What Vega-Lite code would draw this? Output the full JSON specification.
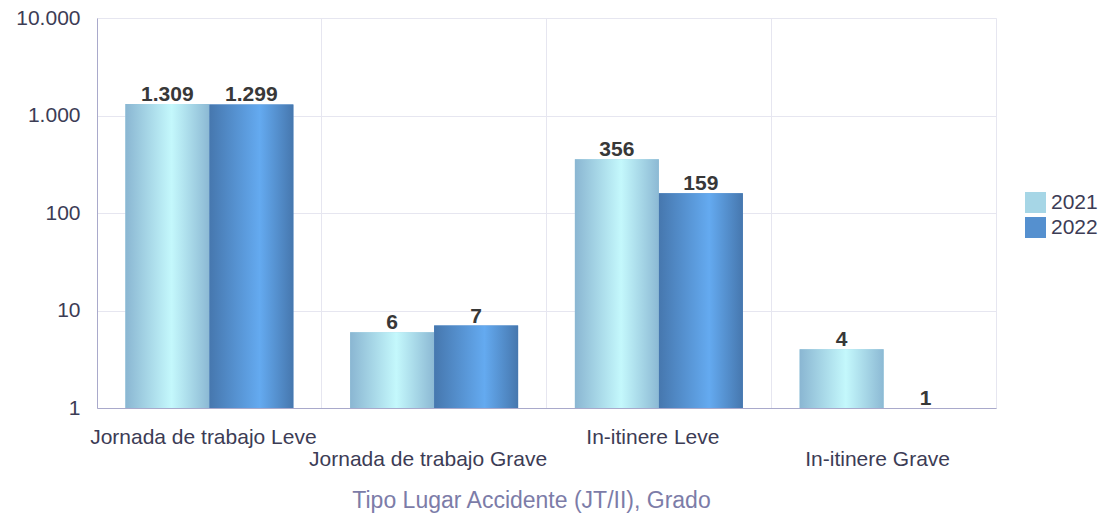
{
  "$schema": "https://vega.github.io/schema/vega-lite/v6.json",
  "width": 899,
  "height": 390,
  "autosize": {"type": "none"},
  "padding": {"left": 97, "top": 18, "right": 109, "bottom": 109},
  "background": "white",
  "config": {
    "locale": {"number": {"decimal": ",", "thousands": ".", "grouping": [3], "currency": ["", " €"]}},
    "view": {"stroke": "#e6e6f0", "strokeWidth": 1},
    "font": "Liberation Sans"
  },
  "data": {
    "values": [
      {"cat": "Jornada de trabajo Leve", "year": "2021", "value": 1309},
      {"cat": "Jornada de trabajo Leve", "year": "2022", "value": 1299},
      {"cat": "Jornada de trabajo Grave", "year": "2021", "value": 6},
      {"cat": "Jornada de trabajo Grave", "year": "2022", "value": 7},
      {"cat": "In-itinere Leve", "year": "2021", "value": 356},
      {"cat": "In-itinere Leve", "year": "2022", "value": 159},
      {"cat": "In-itinere Grave", "year": "2021", "value": 4},
      {"cat": "In-itinere Grave", "year": "2022", "value": 1}
    ]
  },
  "encoding": {
    "x": {
      "field": "cat",
      "type": "nominal",
      "sort": null,
      "scale": {"paddingInner": 0, "paddingOuter": 0},
      "axis": {
        "title": "Tipo Lugar Accidente (JT/II), Grado",
        "titleFont": "Liberation Sans",
        "titleFontSize": 23,
        "titleFontWeight": "normal",
        "titleColor": "#7c7ca8",
        "titleX": 434,
        "titleY": 99,
        "titleBaseline": "alphabetic",
        "titleAlign": "center",
        "labelAngle": 0,
        "labelFont": "Liberation Sans",
        "labelFontSize": 21,
        "labelColor": "#3c3c55",
        "labelBaseline": "alphabetic",
        "labelLineHeight": 22,
        "labelPadding": 35,
        "labelOffset": -6,
        "labelOverlap": false,
        "labelLimit": 0,
        "labelExpr": "indexof(datum.label, 'Grave') >= 0 ? ['', datum.label] : datum.label",
        "bandPosition": 0,
        "ticks": false,
        "tickSize": 0,
        "grid": true,
        "gridColor": "#e6e6f0",
        "gridWidth": 1,
        "domainColor": "#a9a9cb",
        "domainWidth": 1
      }
    },
    "y": {
      "field": "value",
      "type": "quantitative",
      "scale": {"type": "log", "domain": [1, 10000], "nice": false},
      "axis": {
        "title": null,
        "values": [1, 10, 100, 1000, 10000],
        "format": ",d",
        "labelFont": "Liberation Sans",
        "labelFontSize": 21,
        "labelColor": "#3c3c55",
        "labelPadding": 17,
        "ticks": false,
        "tickSize": 0,
        "grid": true,
        "gridColor": "#e6e6f0",
        "gridWidth": 1,
        "domainColor": "#a9a9cb",
        "domainWidth": 1
      }
    },
    "xOffset": {
      "field": "year",
      "type": "nominal",
      "scale": {"domain": ["2021", "2022"], "paddingInner": 0, "paddingOuter": 0.338}
    }
  },
  "layer": [
    {
      "mark": {"type": "bar"},
      "encoding": {
        "y2": {"datum": 1},
        "color": {
          "field": "year",
          "type": "nominal",
          "scale": {"domain": ["2021", "2022"], "range": ["#a6d6e6", "#5590cf"]},
          "legend": {
            "title": null,
            "orient": "none",
            "legendX": 928,
            "legendY": 174,
            "padding": 0,
            "symbolType": "square",
            "symbolSize": 441,
            "symbolStrokeWidth": 0,
            "symbolOpacity": 1,
            "rowPadding": 3,
            "labelOffset": 5,
            "labelFont": "Liberation Sans",
            "labelFontSize": 21,
            "labelColor": "#3c3c55"
          }
        }
      }
    },
    {
      "transform": [{"filter": "datum.year === '2021'"}],
      "mark": {
        "type": "bar",
        "color": {
          "gradient": "linear", "x1": 0, "x2": 1, "y1": 0, "y2": 0,
          "stops": [
            {"offset": 0, "color": "#8ab6d2"},
            {"offset": 0.55, "color": "#c4f8fc"},
            {"offset": 1, "color": "#8cb9d4"}
          ]
        }
      },
      "encoding": {"y2": {"datum": 1}}
    },
    {
      "transform": [{"filter": "datum.year === '2022'"}],
      "mark": {
        "type": "bar",
        "color": {
          "gradient": "linear", "x1": 0, "x2": 1, "y1": 0, "y2": 0,
          "stops": [
            {"offset": 0, "color": "#4677ae"},
            {"offset": 0.6, "color": "#64aaf0"},
            {"offset": 1, "color": "#4677ae"}
          ]
        }
      },
      "encoding": {"y2": {"datum": 1}}
    },
    {
      "mark": {
        "type": "text",
        "font": "Liberation Sans",
        "fontSize": 21,
        "fontWeight": "bold",
        "color": "#383838",
        "baseline": "alphabetic",
        "dy": -3
      },
      "encoding": {
        "text": {"field": "value", "type": "quantitative", "format": ",d"}
      }
    }
  ]
}
